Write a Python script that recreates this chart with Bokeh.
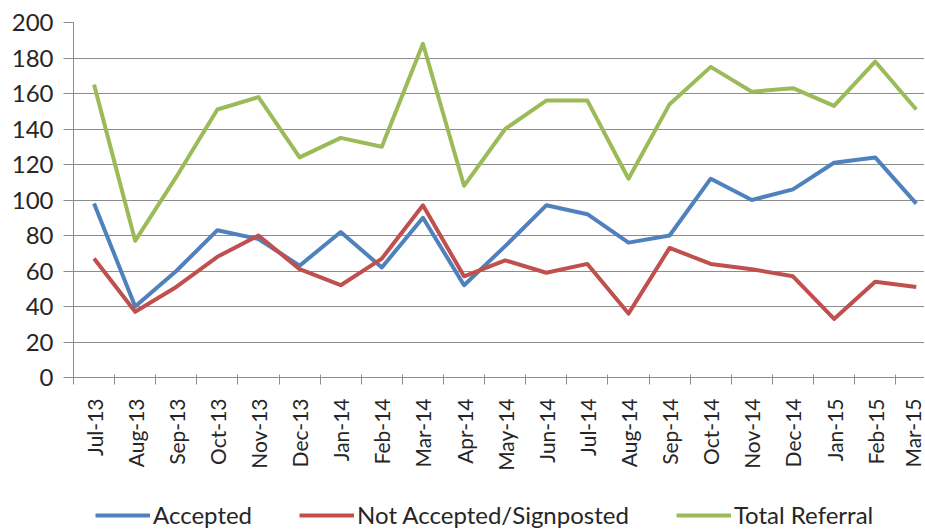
import math
from bokeh.plotting import figure
from bokeh.layouts import column
from bokeh.models import FixedTicker, Range1d, Legend, LegendItem
from bokeh.embed import file_html
from bokeh.resources import INLINE

months = ["Jul-13", "Aug-13", "Sep-13", "Oct-13", "Nov-13", "Dec-13", "Jan-14",
          "Feb-14", "Mar-14", "Apr-14", "May-14", "Jun-14", "Jul-14", "Aug-14",
          "Sep-14", "Oct-14", "Nov-14", "Dec-14", "Jan-15", "Feb-15", "Mar-15"]
accepted = [98, 40, 60, 83, 78, 63, 82, 62, 90, 52, 74, 97, 92, 76, 80, 112, 100, 106, 121, 124, 98]
not_accepted = [67, 37, 51, 68, 80, 61, 52, 67, 97, 57, 66, 59, 64, 36, 73, 64, 61, 57, 33, 54, 51]
total = [165, 77, 113, 151, 158, 124, 135, 130, 188, 108, 140, 156, 156, 112, 154, 175, 161, 163, 153, 178, 151]
series_names = ["Accepted", "Not Accepted/Signposted", "Total Referral"]
series_colors = ["#4F81BD", "#C0504D", "#9BBB59"]
y_ticks = list(range(0, 201, 20))

xs = list(range(len(months)))
series = [accepted, not_accepted, total]

p = figure(frame_width=851, frame_height=355, output_backend="svg", toolbar_location=None,
           x_range=Range1d(-0.5, 20.2), y_range=Range1d(0, 200),
           min_border_left=73, min_border_right=0, min_border_top=22, min_border_bottom=0)
p.outline_line_color = None
p.background_fill_color = "white"
p.border_fill_color = "white"

for ys, c in zip(series, series_colors):
    p.line(xs, ys, line_width=4, color=c, line_join="round")

# x axis
xa = p.xaxis[0]
xa.ticker = FixedTicker(ticks=xs, minor_ticks=[i - 0.5 for i in range(len(months) + 1)])
xa.major_label_overrides = {i: m for i, m in enumerate(months)}
xa.major_label_orientation = math.pi / 2
xa.major_tick_line_color = None
xa.major_tick_out = 0
xa.major_tick_in = 0
xa.minor_tick_in = 3
xa.minor_tick_out = 7
xa.minor_tick_line_color = "#8c8c8c"
xa.axis_line_color = "#8c8c8c"
xa.major_label_standoff = 14
xa.major_label_text_font = "Lato"
xa.major_label_text_font_size = "21px"
xa.major_label_text_color = "#262626"

# y axis
ya = p.yaxis[0]
ya.ticker = FixedTicker(ticks=y_ticks)
ya.minor_tick_line_color = None
ya.major_tick_out = 10
ya.major_tick_in = 0
ya.major_tick_line_color = "#8c8c8c"
ya.axis_line_color = "#8c8c8c"
ya.major_label_standoff = 10
ya.major_label_text_font = "Lato"
ya.major_label_text_font_size = "24px"
ya.major_label_text_color = "#262626"

p.xgrid.visible = False
p.ygrid.ticker = FixedTicker(ticks=y_ticks)
p.ygrid.grid_line_color = "#8c8c8c"
p.ygrid.grid_line_width = 1

# legend strip (separate figure under the chart); its series lie outside its range
lg = figure(width=924, height=57, output_backend="svg", toolbar_location=None,
            x_range=Range1d(0, 1), y_range=Range1d(0, 1),
            min_border_left=0, min_border_right=0, min_border_top=0, min_border_bottom=0)
lg.axis.visible = False
lg.grid.visible = False
lg.outline_line_color = None
lg.background_fill_color = "white"
lg.border_fill_color = "white"
items = []
for name, ys, c in zip(series_names, series, series_colors):
    r = lg.line(xs, ys, line_width=4, color=c)
    items.append(LegendItem(label=name, renderers=[r]))
legend = Legend(items=items, orientation="horizontal", location=(22, 1),
                border_line_color=None, background_fill_alpha=0,
                glyph_width=55, glyph_height=20, label_standoff=3, spacing=47,
                padding=0, margin=0,
                label_text_font="Lato", label_text_font_size="24px",
                label_text_color="#262626")
lg.add_layout(legend, "center")

layout = column(p, lg, spacing=0)
open("out.html", "w").write(file_html(layout, INLINE))
